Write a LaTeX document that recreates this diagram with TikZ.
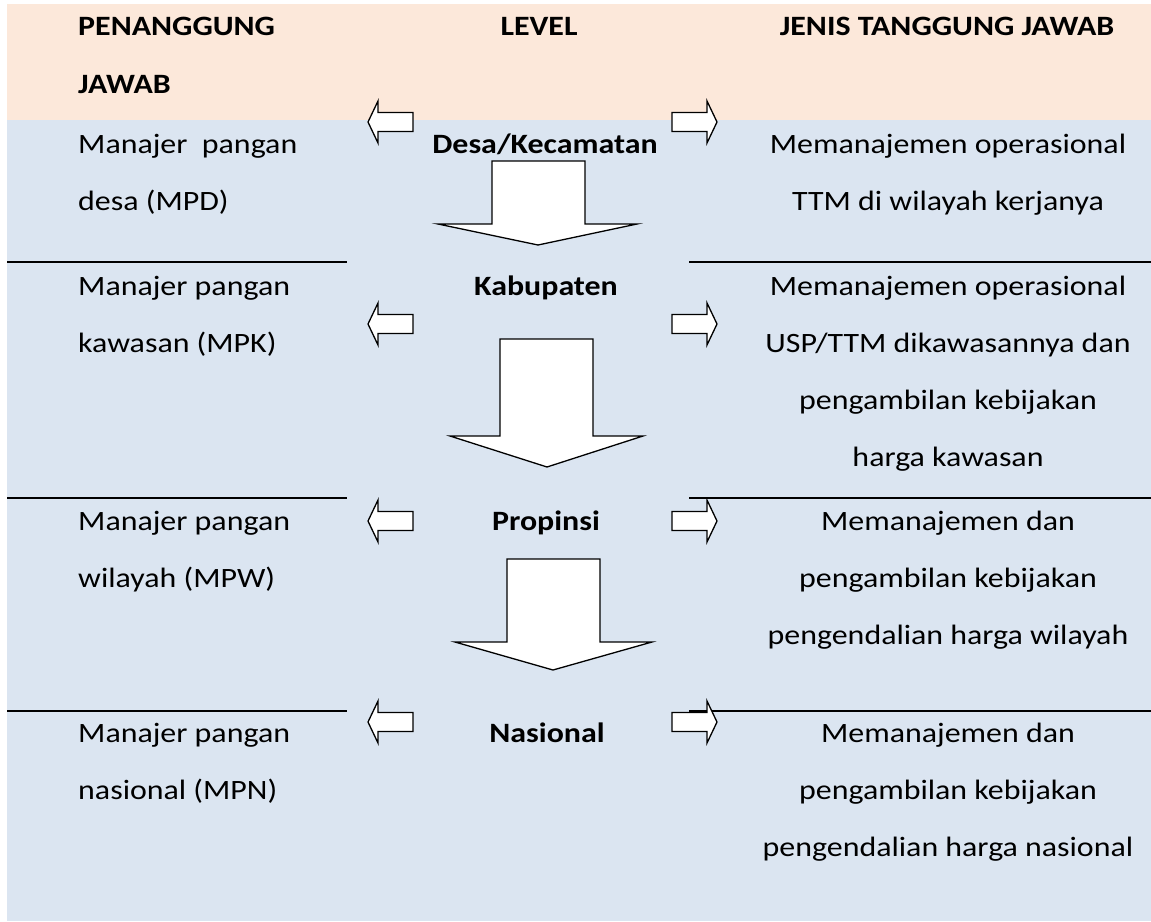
\documentclass[tikz,border=0pt]{standalone}
\usepackage{fontspec}
\setmainfont{Carlito}
\definecolor{peach}{RGB}{252,232,218}
\definecolor{paleblue}{RGB}{219,229,241}
\begin{document}
\begin{tikzpicture}[x=1pt,y=-1pt,
  txt/.style={anchor=base,inner sep=0pt,xscale=1.14,transform shape,font=\fontsize{28}{33}\selectfont},
  ltxt/.style={txt,anchor=base west},
  btxt/.style={txt,font=\fontsize{28}{33}\selectfont\bfseries},
  blk/.style={draw=black,fill=white,line width=1.3pt,line join=miter},
  rule/.style={draw=black,line width=2pt}]
\useasboundingbox (0,0) rectangle (1151,921);
\fill[white] (0,0) rectangle (1151,921);
\fill[peach] (7,4) rectangle (1151,120);
\fill[paleblue] (7,120) rectangle (1151,921);
% separator rules
\draw[rule] (7,262) -- (347,262);
\draw[rule] (689,262) -- (1151,262);
\draw[rule] (7,498) -- (347,498);
\draw[rule] (689,498) -- (1151,498);
\draw[rule] (7,711) -- (347,711);
\draw[rule] (689,711) -- (1151,711);
% header
\node[btxt,anchor=base west] (h1) at (78,35) {PENANGGUNG};
\node[btxt,anchor=base west] (h1b) at (78,93) {JAWAB};
\node[btxt] (h2) at (539,35) {LEVEL};
\node[btxt] (h3) at (947,35) {JENIS TANGGUNG JAWAB};
% row 1
\node[ltxt] (a1) at (78,153) {Manajer\ \ pangan};
\node[ltxt] (a2) at (78,210) {desa (MPD)};
\node[btxt] (l1) at (545,153) {Desa/Kecamatan};
\node[txt] (r1a) at (948,153) {Memanajemen operasional};
\node[txt] (r1b) at (948,210) {TTM di wilayah kerjanya};
% row 2
\node[ltxt] (b1) at (78,295) {Manajer pangan};
\node[ltxt] (b2) at (78,352) {kawasan (MPK)};
\node[btxt] (l2) at (546,295) {Kabupaten};
\node[txt] (r2a) at (948,295) {Memanajemen operasional};
\node[txt] (r2b) at (948,352) {USP/TTM dikawasannya dan};
\node[txt] (r2c) at (948,409) {pengambilan kebijakan};
\node[txt] (r2d) at (948,466) {harga kawasan};
% row 3
\node[ltxt] (c1) at (78,530) {Manajer pangan};
\node[ltxt] (c2) at (78,587) {wilayah (MPW)};
\node[btxt] (l3) at (546,530) {Propinsi};
\node[txt] (r3a) at (948,530) {Memanajemen dan};
\node[txt] (r3b) at (948,587) {pengambilan kebijakan};
\node[txt] (r3c) at (948,644) {pengendalian harga wilayah};
% row 4
\node[ltxt] (d1) at (78,742) {Manajer pangan};
\node[ltxt] (d2) at (78,799) {nasional (MPN)};
\node[btxt] (l4) at (547,742) {Nasional};
\node[txt] (r4a) at (948,742) {Memanajemen dan};
\node[txt] (r4b) at (948,799) {pengambilan kebijakan};
\node[txt] (r4c) at (948,856) {pengendalian harga nasional};
% side block arrows
\foreach \cy in {122,324,521,722}{
  \draw[blk] (368,\cy) -- (378,\cy-21) -- (378,\cy-9.5) -- (413,\cy-9.5)
    -- (413,\cy+9.5) -- (378,\cy+9.5) -- (378,\cy+21) -- cycle;
  \draw[blk] (717,\cy) -- (707,\cy-21) -- (707,\cy-9.5) -- (672,\cy-9.5)
    -- (672,\cy+9.5) -- (707,\cy+9.5) -- (707,\cy+21) -- cycle;
}
% down block arrows
\draw[blk] (492,161) -- (585,161) -- (585,224) -- (637,224) -- (538,245)
  -- (438,224) -- (492,224) -- cycle;
\draw[blk] (500,339) -- (593,339) -- (593,436) -- (643,436) -- (547,467)
  -- (450,436) -- (500,436) -- cycle;
\draw[blk] (507,559) -- (600,559) -- (600,642) -- (652,642) -- (553,670)
  -- (455,642) -- (507,642) -- cycle;
\end{tikzpicture}
\end{document}
